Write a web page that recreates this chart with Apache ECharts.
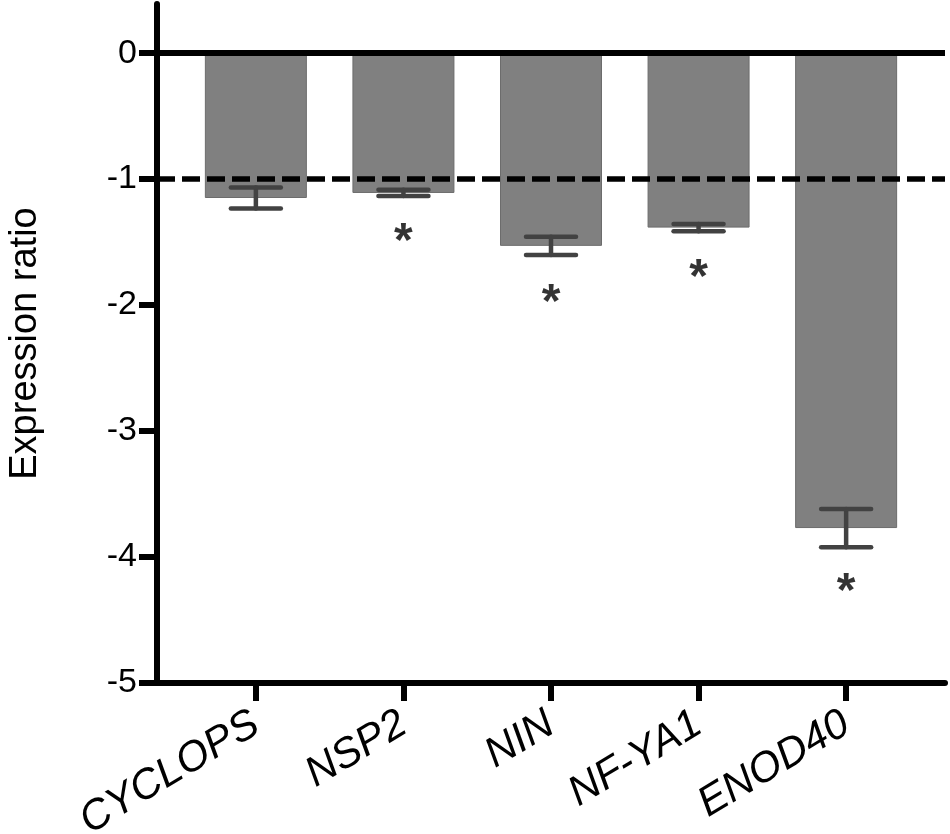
<!DOCTYPE html>
<html>
<head>
<meta charset="utf-8">
<script src="https://cdn.jsdelivr.net/npm/echarts@6/dist/echarts.min.js"></script>
<style>
  html, body { margin: 0; padding: 0; background: #fff; }
  #chart { width: 950px; height: 834px; }
</style>
</head>
<body>
<div id="chart"></div>
<script type="text/javascript">
// values
var genes   = ['CYCLOPS', 'NSP2', 'NIN', 'NF-YA1', 'ENOD40'];
var ratios  = [-1.15, -1.11, -1.53, -1.385, -3.77];
var errors  = [0.084, 0.025, 0.072, 0.028, 0.152];
var starY   = [null, -1.415, -1.90, -1.706, -4.195];   // where the * sits
var yTicks  = [0, -1, -2, -3, -4, -5];
var threshold = -1;

var font = 'Liberation Sans, Arial, Helvetica, sans-serif';
var idx = genes.map(function (g, i) { return i; });

var barData = ratios.map(function (v, i) { return [i, v]; });
var errData = ratios.map(function (v, i) { return [i, v - errors[i], v + errors[i]]; });
var starData = [];
starY.forEach(function (v, i) { if (v !== null) starData.push([i, v]); });

function renderError(params, api) {
  var x = api.value(0);
  var pLo = api.coord([x, api.value(1)]);
  var pHi = api.coord([x, api.value(2)]);
  var half = 25;
  var st = { stroke: '#424242', lineWidth: 4.5, lineCap: 'round' };
  return {
    type: 'group',
    children: [
      { type: 'line', shape: { x1: pLo[0], y1: pLo[1], x2: pHi[0], y2: pHi[1] }, style: st },
      { type: 'line', shape: { x1: pLo[0] - half, y1: pLo[1], x2: pLo[0] + half, y2: pLo[1] }, style: st },
      { type: 'line', shape: { x1: pHi[0] - half, y1: pHi[1], x2: pHi[0] + half, y2: pHi[1] }, style: st }
    ]
  };
}

var chart = echarts.init(document.getElementById('chart'));
chart.setOption({
  animation: false,
  backgroundColor: '#fff',
  grid: { left: 157, right: 5, top: 4, bottom: 151, outerBoundsMode: 'none' },
  xAxis: {
    type: 'value',
    min: -0.67,
    max: 4.67,
    splitLine: { show: false },
    axisLine: { onZero: false, lineStyle: { color: '#000', width: 6 } },
    axisTick: { customValues: idx, length: 18, lineStyle: { color: '#000', width: 6 } },
    axisLabel: {
      customValues: idx,
      formatter: function (v) { return genes[Math.round(v)]; },
      rotate: 31,
      margin: 38,
      fontSize: 42,
      fontStyle: 'italic',
      fontFamily: font,
      color: '#000'
    }
  },
  yAxis: {
    type: 'value',
    min: -5,
    max: 0.39,
    name: 'Expression ratio',
    nameLocation: 'middle',
    nameGap: 112,
    nameTextStyle: { fontSize: 38, fontFamily: font, color: '#000' },
    splitLine: { show: false },
    axisLine: { onZero: false, lineStyle: { color: '#000', width: 6 } },
    axisTick: { customValues: yTicks, length: 18, lineStyle: { color: '#000', width: 6 } },
    axisLabel: {
      customValues: yTicks,
      margin: 20,
      fontSize: 34,
      fontFamily: font,
      color: '#000'
    }
  },
  series: [
    {
      type: 'bar',
      data: barData,
      barWidth: 102,
      itemStyle: { color: '#808080', borderColor: '#6c6c6c', borderWidth: 1 },
      z: 2,
      markLine: {
        silent: true,
        symbol: 'none',
        label: { show: false },
        data: [
          { yAxis: 0, lineStyle: { color: '#000', width: 6, type: 'solid' } },
          { yAxis: threshold, lineStyle: { color: '#000', width: 5.5, type: [18, 7] } }
        ]
      }
    },
    {
      type: 'custom',
      renderItem: renderError,
      data: errData,
      z: 4
    },
    {
      type: 'scatter',
      data: starData,
      symbolSize: 2,
      itemStyle: { color: 'rgba(0,0,0,0)' },
      label: {
        show: true,
        formatter: '*',
        position: 'inside',
        offset: [0, 11],
        fontSize: 48,
        fontWeight: 'bold',
        fontFamily: font,
        color: '#000'
      },
      z: 5
    }
  ]
});
</script>
</body>
</html>
